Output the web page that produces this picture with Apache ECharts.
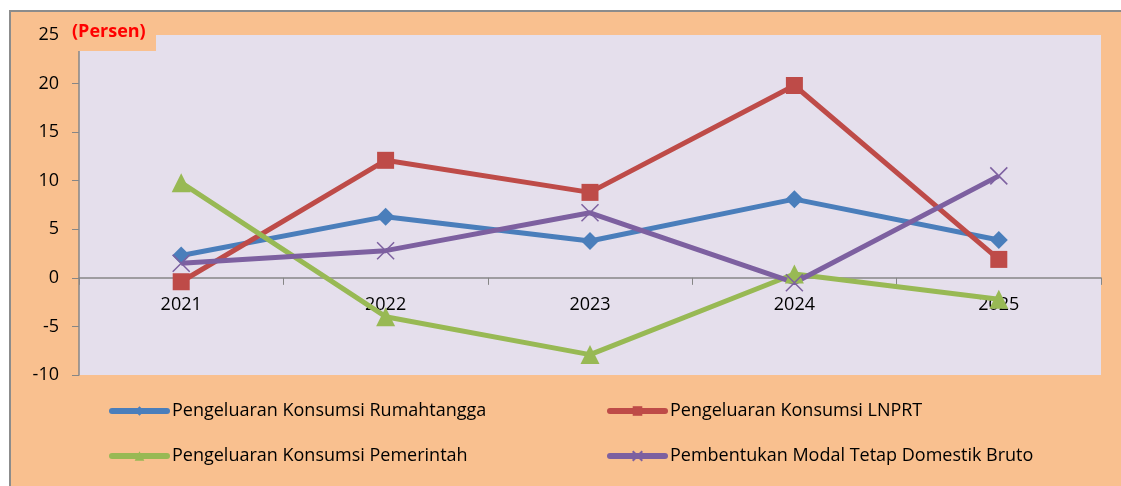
<!DOCTYPE html>
<html>
<head>
<meta charset="utf-8">
<script src="https://cdn.jsdelivr.net/npm/echarts@6/dist/echarts.min.js"></script>
<style>
  html, body { margin: 0; padding: 0; background: #fff; }
  #box { width: 1121px; height: 486px; }
</style>
</head>
<body>
<div id="box"></div>
<script>
// data
const years = ['2021', '2022', '2023', '2024', '2025'];
const rumahtangga = [2.3, 6.3, 3.8, 8.1, 3.9];
const lnprt = [-0.4, 12.1, 8.8, 19.8, 1.9];
const pemerintah = [9.8, -4.0, -7.9, 0.4, -2.2];
const pmtb = [1.5, 2.8, 6.7, -0.5, 10.5];
const yTicks = { min: -10, max: 25, step: 5 };

const names = [
  'Pengeluaran Konsumsi Rumahtangga',
  'Pengeluaran Konsumsi LNPRT',
  'Pengeluaran Konsumsi Pemerintah',
  'Pembentukan Modal Tetap Domestik Bruto'
];

const font = '"Open Sans", sans-serif';
const peach = '#F9C08F';
const gridTop = 35;
const gridBottom = 111;
const gridH = 486 - gridTop - gridBottom;
// the category axis sits on the zero line
const zeroOffset = -gridH * (0 - yTicks.min) / (yTicks.max - yTicks.min);

function line (name, data, color, symbol, size, extra) {
  return Object.assign({
    name: name,
    type: 'line',
    data: data,
    symbol: symbol,
    symbolSize: size,
    lineStyle: { width: 5, color: color },
    itemStyle: { color: color },
    z: 3
  }, extra || {});
}

const legendBase = {
  top: 397,
  orient: 'vertical',
  itemGap: 27,
  itemWidth: 55,
  itemHeight: 12,
  lineStyle: { width: 6, cap: 'round' },
  textStyle: { fontSize: 18, color: '#000', fontFamily: font }
};

const chart = echarts.init(document.getElementById('box'));
const option = {
  animation: false,
  backgroundColor: '#fff',
  textStyle: { fontFamily: font },
  graphic: [
    {
      type: 'rect',
      shape: { x: 10, y: 11, width: 1200, height: 600 },
      style: { fill: peach, stroke: '#8c8c8c', lineWidth: 2 },
      z: -10
    },
    {
      type: 'rect',
      shape: { x: 79, y: gridTop, width: 1022, height: gridH },
      style: { fill: '#E5DFEC' },
      z: -5
    },
    {
      type: 'rect',
      shape: { x: 70, y: 20, width: 86, height: 31 },
      style: { fill: peach },
      z: 50
    },
    {
      type: 'text',
      left: 72,
      top: 23,
      style: {
        text: '(Persen)',
        fill: '#FF0000',
        font: 'bold 18px ' + font
      },
      z: 51
    }
  ],
  grid: { left: 79, right: 20, top: gridTop, bottom: gridBottom, containLabel: false },
  legend: [
    Object.assign({ left: 104, data: [names[0], names[2]] }, legendBase),
    Object.assign({ left: 602, data: [names[1], names[3]] }, legendBase)
  ],
  xAxis: {
    type: 'category',
    data: years,
    boundaryGap: true,
    offset: zeroOffset,
    axisLine: { onZero: false, lineStyle: { color: '#868686', width: 1.5 } },
    axisTick: { show: true, length: 7, lineStyle: { color: '#868686' } },
    axisLabel: { fontSize: 18, color: '#000', margin: 18, fontFamily: font },
    splitLine: { show: false }
  },
  yAxis: {
    type: 'value',
    min: yTicks.min,
    max: yTicks.max,
    interval: yTicks.step,
    axisLine: { show: true, lineStyle: { color: '#868686', width: 1.5 } },
    axisTick: { show: true, length: 7, lineStyle: { color: '#868686' } },
    axisLabel: { fontSize: 18, color: '#000', margin: 20, fontFamily: font },
    splitLine: { show: false }
  },
  series: [
    line(names[0], rumahtangga, '#4A7EBB', 'diamond', 18),
    line(names[1], lnprt, '#BE4B48', 'rect', 17),
    line(names[2], pemerintah, '#98B954', 'triangle', 19),
    line(names[3], pmtb, '#7D60A0', 'path://M0,0L10,10M10,0L0,10', 17, {
      itemStyle: { color: '#7D60A0', borderColor: '#7D60A0', borderWidth: 1.5 }
    })
  ]
};
chart.setOption(option);
</script>
</body>
</html>
